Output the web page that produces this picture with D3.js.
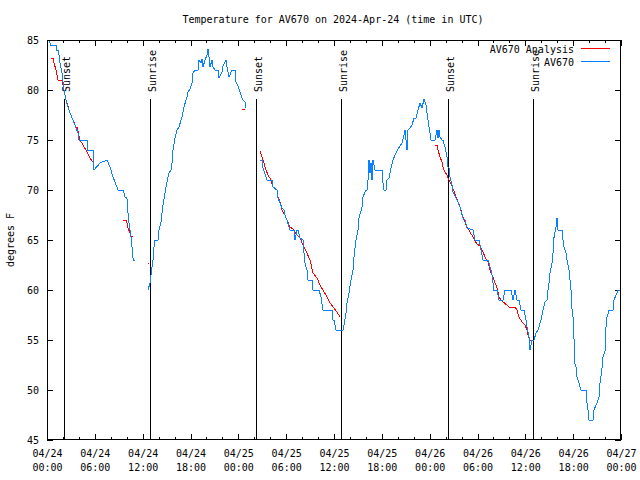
<!DOCTYPE html>
<html><head><meta charset="utf-8">
<script src="https://cdn.jsdelivr.net/npm/d3@7"></script>
<style>
body{margin:0;background:#fff;}
svg{display:block;}
text{font-family:"DejaVu Sans Mono","Liberation Mono",monospace;font-size:10px;fill:#000;}
</style></head><body>
<svg id="chart" width="640" height="480"></svg>
<script>
// ---- data (hours since 2024-04-24 00:00 UTC, degrees F) ----
const chartTitle = "Temperature for AV670 on 2024-Apr-24 (time in UTC)";
const yLabel = "degrees F";
const seriesNames = ["AV670 Analysis", "AV670"];
const seriesColors = ["#ff0000", "#0a80ff"];

const xTickHours = [0,6,12,18,24,30,36,42,48,54,60,66,72];
const xTickDates = ["04/24","04/24","04/24","04/24","04/25","04/25","04/25","04/25","04/26","04/26","04/26","04/26","04/27"];
const xTickTimes = ["00:00","06:00","12:00","18:00","00:00","06:00","12:00","18:00","00:00","06:00","12:00","18:00","00:00"];
const yTicks = [45,50,55,60,65,70,75,80,85];

const sunEventHours = [2.13, 12.98, 26.22, 36.88, 50.30, 60.96];
const sunEventNames = ["Sunset","Sunrise","Sunset","Sunrise","Sunset","Sunrise"];

// observed (AV670); NaN marks a gap
const obsHours = [
 0.30,0.40,1.13,1.13,1.38,1.51,1.63,1.88,2.13,2.38,2.63,2.89,3.26,3.64,3.89,4.01,5.02,5.02,5.77,5.90,6.65,7.53,7.90,8.28,8.53,8.91,9.53,9.66,9.78,10.03,10.05,10.16,10.29,10.41,10.54,10.66,10.79,10.81,11.04,
 NaN,
 12.67,12.92,13.05,13.17,13.30,13.42,13.55,13.92,14.05,14.30,14.55,14.80,15.05,15.30,15.55,15.68,15.81,16.06,16.31,16.56,16.81,16.93,17.18,17.56,17.69,17.94,18.19,18.31,18.56,18.94,19.07,19.32,19.44,19.57,19.82,20.07,20.20,20.32,20.45,20.70,20.82,21.07,21.45,21.58,21.95,22.08,22.45,22.58,22.83,23.21,23.58,23.71,23.96,24.21,24.46,24.59,24.84,24.96,
 NaN,
 26.72,27.09,27.09,27.60,28.22,28.35,28.85,28.98,29.48,29.73,29.85,30.10,30.48,30.98,31.11,31.36,31.49,31.74,32.11,32.24,32.36,32.61,32.74,33.24,33.37,34.12,34.37,34.62,35.75,35.88,36.00,36.25,37.13,37.26,37.51,37.63,37.88,38.13,38.38,38.51,38.76,39.01,39.14,39.51,39.64,40.01,40.14,40.27,40.39,40.52,40.64,40.77,40.89,41.14,42.02,42.15,42.27,42.52,42.65,42.90,43.15,43.40,43.65,44.03,44.53,44.78,44.91,45.16,45.28,45.53,45.78,46.04,46.29,46.54,46.79,47.04,47.29,47.54,47.79,48.17,48.67,48.92,49.04,49.17,49.30,49.55,49.67,49.92,50.17,50.30,50.43,50.55,50.80,50.93,51.43,51.80,52.18,52.43,52.68,53.44,53.69,54.19,54.44,54.69,55.32,55.69,55.94,55.96,56.45,56.70,57.20,57.45,58.20,58.45,58.70,58.95,59.21,59.46,59.83,60.08,60.21,60.46,60.59,60.84,61.09,61.34,61.59,61.97,62.22,62.47,62.72,62.84,62.97,63.10,63.35,63.47,63.60,63.85,63.97,64.10,64.60,64.73,64.85,65.10,65.23,65.48,65.73,65.86,65.98,66.11,66.13,66.36,66.48,66.73,66.98,67.61,67.74,67.86,67.99,68.49,68.61,68.99,69.24,69.37,69.62,69.74,69.99,70.12,70.25,70.50,71.00,71.12,71.50,71.62,72.00
];
const obsTemps = [
 85.4,84.5,84.5,84,84,83.5,82.7,81.7,80,79,78.3,77.7,77,76.2,75.7,75,75,74,74,72,72.7,73,72.3,71.3,70.8,70,70,69.7,69.3,69.2,68.8,67.7,66.7,66,65.3,64.3,63.2,63,63,
 NaN,
 60,60.7,61.5,62.3,63,64.3,65,65,66,66.8,68.5,69.7,70.8,71.7,72,72.7,74,75.2,76,76.3,77,77.3,78.3,79.3,79.8,80.1,80.7,81.7,82,82,83,82.7,83.1,82.3,83,83.5,84.1,83.3,82.3,83,82.3,82,82,81.2,81.8,82.4,83,82.3,81.3,82,82,80.8,80.4,79.8,79.2,79,78.8,78.2,
 NaN,
 73,73,72.2,71,71,70.3,70,69.2,68.2,68,67.5,67,66,66,65,66,66,65.2,65,63.7,62.7,62,61,61,60,60,59.3,58,58,57,57,56,56,56.5,57.7,58.7,59.7,61,62,63.3,65,66,67.2,68.3,69.3,70,70,71,73,71.7,72.7,71,73,72,72,70.7,70,70,71,71.2,72.2,73,73.5,74.1,74.7,75.5,76,74,76,76.2,76.5,77.2,77.2,78,78.7,78.2,79.1,78.5,77,75,75,76,75.2,76,75.3,75,75,74.3,73.3,72.3,72.2,71.3,70.5,69.8,69,68.3,67.2,67,66.2,66,65,65,64,63,63,62,61,60,60,59,59,60,60,59,60,59,59,58,58,57,56.3,55.3,54,55,55,55.7,56,57,58,58.8,59,60,60.7,61.7,62.7,63.7,65.3,66.3,67.2,66,66,65,64.3,63.7,63,62,60,58,57.3,55,52.8,52.3,51.3,50.7,50,50,48.7,48,47,47,48,48.7,49.3,50.7,52.2,53.3,53.8,56.3,57.3,58,58,59,59.7,60,60
];

// analysis (AV670 Analysis); NaN marks a gap
const anaHours = [
 0.50,0.75,0.88,1.13,1.38,1.88,2.13,2.38,2.89,3.26,3.64,3.76,4.14,4.52,5.02,5.39,5.64,5.77,
 NaN,
 9.53,9.91,10.03,10.16,10.41,10.54,10.79,
 NaN,
 12.61,12.79,
 NaN,
 24.46,24.84,
 NaN,
 26.72,26.97,27.22,27.47,27.72,28.10,28.35,28.85,28.98,29.23,29.48,29.85,30.10,30.48,30.86,31.36,31.74,32.11,32.61,32.99,33.37,33.87,34.24,34.62,35.12,35.50,35.88,36.38,36.75,
 NaN,
 48.67,48.92,49.04,49.30,49.55,49.67,49.92,50.17,50.30,50.55,50.80,51.18,51.80,52.18,52.68,52.81,53.06,53.44,53.69,53.94,54.32,54.69,54.94,55.32,55.57,55.82,56.07,56.45,56.70,56.95,57.20,57.70,57.95,58.70,58.95,59.21,59.58,59.96,60.21,60.34,60.59,60.96
];
const anaTemps = [
 83.2,83.2,82.7,82,81,81,80,79,77.7,77,76.3,76.3,75,74.5,73.8,73.2,72.9,72.9,
 NaN,
 67,67,66.7,66.2,65.7,65.4,65.4,
 NaN,
 62.7,62.7,
 NaN,
 78.1,78.1,
 NaN,
 73.9,73.3,72.7,72,71.5,71,70.3,70,69.3,68.8,68,67.5,67,66.3,66.1,65.5,65.2,64.5,63.7,63,61.7,61.2,60.5,60,59.3,58.7,58.3,57.8,57.3,
 NaN,
 74.5,74.5,74,73.3,72.8,72.3,71.8,71.5,71.2,70.8,70.4,69.6,68.3,67.3,66.3,66.2,65.8,65.3,64.9,64.6,64.4,63.8,63.3,62.8,62,61.5,61,60.2,59.3,59,58.8,58.5,58.3,58.3,58,57.3,56.8,56.5,56,55.5,55,55
];

// ---- layout ----
const svg = d3.select("#chart");
const L = 47, R = 621, T = 40, B = 440;
const x = d3.scaleLinear().domain([0, 72]).range([L, R]);
const y = d3.scaleLinear().domain([45, 85]).range([B, T]);

svg.append("defs").append("clipPath").attr("id","plotclip")
  .append("rect").attr("x",L).attr("y",T).attr("width",R-L).attr("height",B-T);

// title
svg.append("text").attr("x", 333).attr("y", 23).attr("text-anchor","middle").text(chartTitle);

// y label
svg.append("text").attr("transform","translate(14,240) rotate(-90)").attr("text-anchor","middle").text(yLabel);

// minor x ticks (every 2 h)
const minorHours = d3.range(0, 73, 2).filter(h => h % 6 !== 0);
svg.append("g").attr("transform",`translate(0,${B})`)
  .call(d3.axisBottom(x).tickValues(minorHours).tickSizeInner(-3).tickSizeOuter(0).tickFormat(""))
  .call(g => g.select(".domain").remove());
svg.append("g").attr("transform",`translate(0,${T})`)
  .call(d3.axisTop(x).tickValues(minorHours).tickSizeInner(-3).tickSizeOuter(0).tickFormat(""))
  .call(g => g.select(".domain").remove());

// major x ticks
const xb = svg.append("g").attr("transform",`translate(0,${B})`)
  .call(d3.axisBottom(x).tickValues(xTickHours).tickSizeInner(-6).tickSizeOuter(0).tickPadding(0).tickFormat(""))
  .call(g => g.select(".domain").remove());
xb.selectAll(".tick text").remove();
xb.selectAll(".tick").append("text")
  .attr("text-anchor","middle").attr("y",17)
  .text((d,i) => xTickDates[i]);
xb.selectAll(".tick").append("text")
  .attr("text-anchor","middle").attr("y",31)
  .text((d,i) => xTickTimes[i]);
svg.append("g").attr("transform",`translate(0,${T})`)
  .call(d3.axisTop(x).tickValues(xTickHours).tickSizeInner(-6).tickSizeOuter(0).tickFormat(""))
  .call(g => g.select(".domain").remove());

// y ticks
const yl = svg.append("g").attr("transform",`translate(${L},0)`)
  .call(d3.axisLeft(y).tickValues(yTicks).tickSizeInner(-6).tickSizeOuter(0).tickPadding(8))
  .call(g => g.select(".domain").remove());
yl.selectAll("text").attr("font-size","10px").attr("font-family",null).attr("dy","0.35em");
svg.append("g").attr("transform",`translate(${R},0)`)
  .call(d3.axisRight(y).tickValues(yTicks).tickSizeInner(-6).tickSizeOuter(0).tickFormat(""))
  .call(g => g.select(".domain").remove());

svg.selectAll(".tick line").attr("stroke","#000").attr("shape-rendering","crispEdges");

// sunrise / sunset markers
const ev = svg.append("g");
sunEventHours.forEach((h, i) => {
  const px = Math.round(x(h)) + 0.5;
  ev.append("line").attr("x1",px).attr("x2",px).attr("y1",99).attr("y2",B)
    .attr("stroke","#000").attr("stroke-width",1).attr("shape-rendering","crispEdges");
  ev.append("text").attr("transform",`translate(${px+5},92) rotate(-90)`)
    .attr("text-anchor","start").text(sunEventNames[i]);
});

// series
const line = d3.line()
  .defined((d) => !isNaN(d[1]))
  .x(d => x(d[0])).y(d => y(d[1]));
const anaData = anaHours.map((h,i) => [h, anaTemps[i]]);
const obsData = obsHours.map((h,i) => [h, obsTemps[i]]);
const plot = svg.append("g").attr("clip-path","url(#plotclip)");
plot.append("path").datum(anaData).attr("d", line)
  .attr("fill","none").attr("stroke",seriesColors[0]).attr("stroke-width",1)
  .attr("shape-rendering","crispEdges");
plot.append("path").datum(obsData).attr("d", line)
  .attr("fill","none").attr("stroke",seriesColors[1]).attr("stroke-width",1)
  .attr("shape-rendering","crispEdges");

// border
svg.append("rect").attr("x",L+0.5).attr("y",T+0.5).attr("width",R-L-1).attr("height",B-T-1)
  .attr("fill","none").attr("stroke","#000").attr("shape-rendering","crispEdges");

// legend
const leg = svg.append("g");
seriesNames.forEach((name, i) => {
  const ly = 49 + i * 13;
  leg.append("text").attr("x",574).attr("y",ly).attr("dy","0.35em").attr("text-anchor","end").text(name);
  leg.append("line").attr("x1",581).attr("x2",610).attr("y1",ly-0.5).attr("y2",ly-0.5)
    .attr("stroke",seriesColors[i]).attr("stroke-width",1).attr("shape-rendering","crispEdges");
});
</script>
</body></html>
